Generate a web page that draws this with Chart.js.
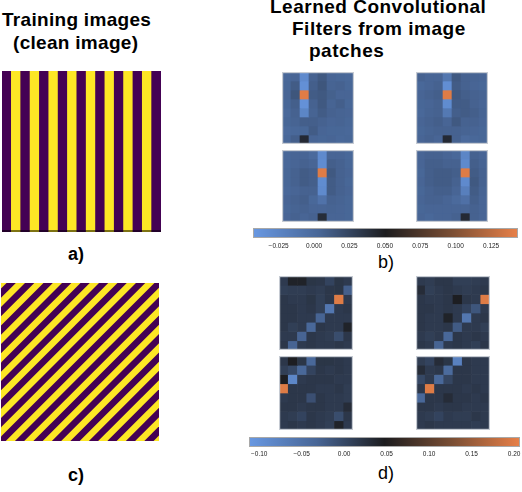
<!DOCTYPE html>
<html><head><meta charset="utf-8">
<script src="https://cdn.jsdelivr.net/npm/chart.js@4.4.0/dist/chart.umd.min.js"></script>
<style>
body{margin:0;background:#fff;width:522px;height:492px;position:relative;overflow:hidden;font-family:"Liberation Sans",Arial,sans-serif;}
.t{position:absolute;white-space:nowrap;color:#000;}
canvas{position:absolute;}
</style></head><body>
<div class="t" style="left:2px;top:10px;font:bold 19px/19px 'Liberation Sans',Arial;letter-spacing:0.3px">Training images</div>
<div class="t" style="left:13px;top:33px;font:bold 19px/19px 'Liberation Sans',Arial;letter-spacing:0.3px">(clean image)</div>
<div class="t" style="left:270px;top:-3px;font:bold 19px/19px 'Liberation Sans',Arial;letter-spacing:0.5px">Learned Convolutional</div>
<div class="t" style="left:292px;top:19px;font:bold 19px/19px 'Liberation Sans',Arial;letter-spacing:0.5px">Filters from image</div>
<div class="t" style="left:309px;top:41px;font:bold 19px/19px 'Liberation Sans',Arial;letter-spacing:0.5px">patches</div>
<div class="t" style="left:68px;top:245px;font:bold 18px/18px 'Liberation Sans',Arial">a)</div>
<div class="t" style="left:378px;top:253px;font:18px/18px 'Liberation Sans',Arial">b)</div>
<div class="t" style="left:68px;top:466px;font:bold 18px/18px 'Liberation Sans',Arial">c)</div>
<div class="t" style="left:378px;top:464px;font:18px/18px 'Liberation Sans',Arial">d)</div>

<canvas id="stripesV" width="159" height="161" style="left:2px;top:71px"></canvas>
<canvas id="stripesD" width="158" height="158" style="left:1px;top:283px"></canvas>
<canvas id="b1" width="72" height="72" style="left:282px;top:72px"></canvas>
<canvas id="b2" width="72" height="72" style="left:416px;top:72px"></canvas>
<canvas id="b3" width="72" height="72" style="left:282px;top:150px"></canvas>
<canvas id="b4" width="72" height="72" style="left:416px;top:150px"></canvas>
<canvas id="d1" width="74" height="74" style="left:279px;top:276px"></canvas>
<canvas id="d2" width="74" height="74" style="left:416px;top:276px"></canvas>
<canvas id="d3" width="74" height="74" style="left:279px;top:356px"></canvas>
<canvas id="d4" width="74" height="74" style="left:416px;top:356px"></canvas>
<canvas id="cbB" width="305" height="30" style="left:233px;top:228px"></canvas>
<canvas id="cbD" width="311" height="30" style="left:229px;top:437px"></canvas>

<script>
// ---------- data ----------
const stripeLabels = ['s1','s2','s3','s4','s5','s6','s7','s8','s9','s10','s11','s12','s13','s14','s15','s16','s17'];
const stripeValues = [0,1,0,1,0,1,0,1,0,1,0,1,0,1,0,1,0];
const diagIntercepts = [-0.995,-0.878,-0.761,-0.644,-0.527,-0.410,-0.293,-0.176,-0.059,0.058,0.175,0.292,0.409,0.526,0.643,0.760,0.877,0.994];

const gridCols = ['c0','c1','c2','c3','c4','c5','c6','c7'];

const filterB1 = [
[0.002,0.004,-0.030,0.006,0.012,0.004,0.003,0.002],
[0.003,0.010,-0.036,0.008,0.014,0.005,0.006,0.003],
[0.004,0.014,0.140,0.010,0.012,0.007,0.004,0.004],
[0.003,0.008,-0.037,0.006,0.012,0.005,0.008,0.003],
[0.001,0.006,-0.026,0.005,0.010,0.006,0.005,0.004],
[0.003,0.005,0.008,0.008,0.006,0.004,0.005,0.003],
[0.000,0.002,0.003,0.010,0.004,0.003,0.003,0.002],
[0.002,0.008,0.042,0.004,0.003,0.004,0.002,0.003]];
const filterB2 = [
[0.006,0.004,0.004,-0.012,0.012,0.006,0.005,0.004],
[0.002,0.004,0.006,-0.034,0.010,0.006,0.004,0.003],
[0.004,0.006,0.008,0.140,0.012,0.008,0.006,0.005],
[0.003,0.004,0.006,-0.032,0.010,0.010,0.006,0.004],
[0.002,0.005,0.006,-0.014,0.008,0.010,0.008,0.005],
[0.004,0.006,0.008,0.004,0.012,0.006,0.006,0.004],
[0.003,0.005,0.006,0.006,0.006,0.005,0.004,0.003],
[0.004,0.006,0.004,0.042,0.006,0.000,0.002,0.003]];
const filterB3 = [
[0.002,0.004,0.004,0.000,-0.030,0.004,0.004,0.002],
[0.002,0.004,0.006,0.004,-0.032,0.008,0.006,0.003],
[0.003,0.006,0.010,0.008,0.140,0.012,0.006,0.004],
[0.003,0.006,0.010,0.008,-0.032,0.010,0.006,0.003],
[0.002,0.004,0.006,0.006,-0.030,0.010,0.006,0.004],
[0.004,0.006,0.008,0.002,-0.008,0.006,0.005,0.003],
[0.003,0.005,0.006,0.004,0.004,0.005,0.004,0.003],
[0.004,0.006,0.004,0.006,0.040,0.004,0.004,0.003]];
const filterB4 = [
[0.004,0.006,0.006,0.004,0.002,-0.026,0.006,0.004],
[0.004,0.008,0.008,0.006,0.006,-0.030,0.008,0.005],
[0.003,0.008,0.010,0.010,0.008,0.140,0.010,0.006],
[0.004,0.008,0.010,0.010,0.006,-0.030,0.012,0.006],
[0.003,0.006,0.008,0.008,0.004,-0.020,0.010,0.005],
[0.004,0.006,0.006,0.004,0.000,-0.006,0.008,0.004],
[0.003,0.004,0.004,0.004,0.004,0.004,0.006,0.004],
[0.004,0.002,0.004,0.004,0.006,0.042,0.006,0.004]];

const filterD1 = [
[0.015,0.040,0.040,0.020,0.018,0.005,0.020,0.015],
[0.010,0.012,0.012,0.015,0.012,0.018,0.020,-0.025],
[0.018,0.015,0.015,0.020,0.010,0.018,0.200,0.015],
[0.018,0.018,0.015,0.018,0.010,-0.060,0.015,0.018],
[0.018,0.018,0.015,0.015,-0.030,0.015,0.015,0.015],
[0.018,0.010,0.015,-0.035,0.018,0.015,0.015,0.040],
[0.015,0.015,-0.030,0.018,0.015,0.012,-0.005,0.018],
[0.018,-0.030,0.015,0.018,0.015,0.015,0.018,0.015]];
const filterD2 = [
[0.015,0.012,0.018,0.018,0.010,0.010,0.012,0.015],
[0.030,0.010,0.015,0.018,0.015,0.012,0.015,0.018],
[0.018,0.015,0.015,0.018,0.045,0.018,0.015,0.200],
[0.018,0.018,0.015,0.018,0.015,0.005,-0.015,0.015],
[0.018,0.015,0.015,0.040,0.015,-0.060,0.015,0.018],
[0.018,0.015,0.015,0.018,-0.020,0.015,0.015,0.010],
[0.015,0.010,0.015,-0.035,0.018,0.015,0.018,0.015],
[0.018,0.015,-0.030,0.015,0.018,0.015,0.010,0.018]];
const filterD3 = [
[0.018,0.045,0.020,-0.035,0.020,0.020,0.018,0.015],
[0.010,0.000,-0.035,0.005,0.018,0.015,0.018,0.015],
[0.045,-0.085,0.015,0.018,0.018,0.018,0.015,0.015],
[0.200,0.018,0.018,0.018,0.015,0.015,0.018,0.012],
[0.015,0.018,0.018,-0.008,0.018,0.015,0.015,0.012],
[0.018,0.018,0.015,0.018,0.018,0.015,0.015,0.030],
[0.015,0.012,0.005,0.018,0.015,0.012,-0.005,0.018],
[0.015,0.018,0.015,0.018,0.015,0.010,0.040,0.015]];
const filterD4 = [
[0.012,0.005,0.030,0.020,-0.075,0.018,0.015,0.015],
[0.030,0.015,0.018,-0.040,0.018,0.018,0.015,0.015],
[0.000,0.015,-0.035,0.002,0.018,0.018,0.015,0.015],
[0.018,0.200,0.018,0.018,0.018,0.015,0.018,0.015],
[-0.035,0.018,0.018,0.030,0.018,0.018,0.015,0.018],
[0.018,0.018,0.015,0.018,0.018,0.015,0.015,0.015],
[0.015,0.012,0.005,0.015,0.012,0.012,0.018,0.015],
[0.015,0.018,0.015,0.015,0.015,0.015,0.012,0.015]];

const rangeB = [-0.0431, 0.144];
const rangeD = [-0.112, 0.207];
const ticksB = [-0.025, 0.000, 0.025, 0.050, 0.075, 0.100, 0.125];
const tickLabelsB = ['\u22120.025','0.000','0.025','0.050','0.075','0.100','0.125'];
const ticksD = [-0.10, -0.05, 0.00, 0.05, 0.10, 0.15, 0.20];
const tickLabelsD = ['\u22120.10','\u22120.05','0.00','0.05','0.10','0.15','0.20'];

// ---------- styling ----------
const FONT = "'Liberation Sans', Arial, sans-serif";
const PURPLE = '#440154', YELLOW = '#fde725';
const cmapStops = [
  [0.00, [104,152,226]],
  [0.25, [72,102,150]],
  [0.50, [28,28,30]],
  [0.75, [122,78,52]],
  [1.00, [232,128,72]]
];
function cmap(v, vmin, vmax) {
  let t = (v - vmin) / (vmax - vmin);
  t = Math.max(0, Math.min(1, t));
  for (let i = 1; i < cmapStops.length; i++) {
    const [t1, c1] = cmapStops[i], [t0, c0] = cmapStops[i-1];
    if (t <= t1) {
      const f = (t - t0) / (t1 - t0);
      const c = c0.map((a, k) => Math.round(a + (c1[k] - a) * f));
      return `rgb(${c[0]},${c[1]},${c[2]})`;
    }
  }
  const c = cmapStops[cmapStops.length-1][1];
  return `rgb(${c[0]},${c[1]},${c[2]})`;
}
Chart.defaults.animation = false;
Chart.defaults.responsive = false;
Chart.defaults.devicePixelRatio = 1;
Chart.defaults.plugins.legend.display = false;
Chart.defaults.plugins.tooltip.enabled = false;

const frame = (color, w) => ({
  id: 'frame',
  afterDraw(chart) {
    const a = chart.chartArea, ctx = chart.ctx;
    ctx.save(); ctx.strokeStyle = color; ctx.lineWidth = w;
    ctx.strokeRect(a.left + w/2, a.top + w/2, a.right - a.left - w, a.bottom - a.top - w);
    ctx.restore();
  }
});

// ---------- vertical stripes ----------
new Chart(document.getElementById('stripesV'), {
  type: 'bar',
  data: { labels: stripeLabels, datasets: [{
    data: stripeValues.map(() => 1),
    backgroundColor: stripeValues.map(v => v ? YELLOW : PURPLE),
    borderWidth: 0, barPercentage: 1, categoryPercentage: 1 }] },
  options: { layout: { padding: 0 },
    scales: { x: { display: false }, y: { display: false, min: 0, max: 1 } } },
  plugins: [{ id: 'spine', afterDraw(chart) {
    const a = chart.chartArea, ctx = chart.ctx;
    ctx.save(); ctx.fillStyle = 'rgba(0,0,0,0.5)';
    ctx.fillRect(a.left, a.bottom - 2, a.right - a.left, 2); ctx.restore(); } }]
});

// ---------- diagonal stripes ----------
new Chart(document.getElementById('stripesD'), {
  type: 'line',
  data: { datasets: diagIntercepts.map(c => ({
    data: [{x: -0.2, y: -0.2 + c}, {x: 1.2, y: 1.2 + c}],
    borderColor: YELLOW, borderWidth: 6.5, pointRadius: 0, clip: 0, borderCapStyle: 'butt' })) },
  options: { layout: { padding: 0 },
    scales: { x: { type: 'linear', display: false, min: 0, max: 1 },
              y: { type: 'linear', display: false, min: 0, max: 1 } } },
  plugins: [{ id: 'bg', beforeDatasetsDraw(chart) {
    const a = chart.chartArea, ctx = chart.ctx;
    ctx.save(); ctx.fillStyle = PURPLE;
    ctx.fillRect(a.left, a.top, a.right - a.left, a.bottom - a.top); ctx.restore(); } }]
});

// ---------- heatmaps ----------
function heatmap(id, values, range) {
  new Chart(document.getElementById(id), {
    type: 'bar',
    data: { labels: gridCols, datasets: values.map((row, r) => ({
      data: row.map(() => [r, r + 1]),
      backgroundColor: row.map(v => cmap(v, range[0], range[1])),
      borderWidth: 0, barPercentage: 1, categoryPercentage: 1, grouped: false })) },
    options: { layout: { padding: 0 },
      scales: { x: { display: false }, y: { display: false, min: 0, max: 8, reverse: true } } },
    plugins: [frame('#c6cbd3', 1.2)]
  });
}
heatmap('b1', filterB1, rangeB); heatmap('b2', filterB2, rangeB);
heatmap('b3', filterB3, rangeB); heatmap('b4', filterB4, rangeB);
heatmap('d1', filterD1, rangeD); heatmap('d2', filterD2, rangeD);
heatmap('d3', filterD3, rangeD); heatmap('d4', filterD4, rangeD);

// ---------- colorbars ----------
function colorbar(id, range, tickVals, tickLabels, barH, pad, fsize) {
  new Chart(document.getElementById(id), {
    type: 'bar',
    data: { labels: ['cb'], datasets: [{
      data: [[range[0], range[1]]],
      backgroundColor: (ctx) => {
        const a = ctx.chart.chartArea;
        if (!a) return '#333';
        const g = ctx.chart.ctx.createLinearGradient(a.left, 0, a.right, 0);
        cmapStops.forEach(([t, c]) => g.addColorStop(t, `rgb(${c[0]},${c[1]},${c[2]})`));
        return g;
      },
      borderWidth: 0, barPercentage: 1, categoryPercentage: 1 }] },
    options: { indexAxis: 'y', layout: { padding: { left: 20, right: 20, top: 0, bottom: 0 } },
      scales: {
        x: { type: 'linear', min: range[0], max: range[1], position: 'bottom',
             grid: { display: false, drawTicks: false }, border: { display: false },
             afterBuildTicks: (s) => { s.ticks = tickVals.map(v => ({ value: v })); },
             afterFit: (s) => { s.height = 30 - barH; },
             ticks: { padding: pad, autoSkip: false, maxRotation: 0, color: '#222',
                      font: { size: fsize, family: FONT },
                      callback: (v, i) => tickLabels[i] } },
        y: { display: false } } },
    plugins: [frame('#a8a8a8', 1)]
  });
}
colorbar('cbB', rangeB, ticksB, tickLabelsB, 10, 4, 6.5);
colorbar('cbD', rangeD, ticksD, tickLabelsD, 10, 3, 6.5);
</script>
</body></html>
